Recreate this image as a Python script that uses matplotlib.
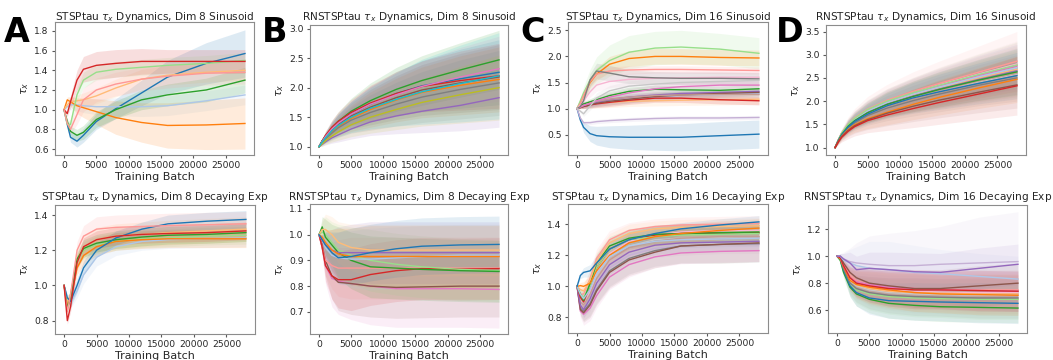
import matplotlib.pyplot as plt

W, H = 1053, 360

BATCH = [0, 500, 1000, 2000, 3000, 5000, 8000, 12000, 16000, 22000, 28000]

TAB20 = dict(zip(
    ["blue", "lblue", "orange", "lorange", "green", "lgreen", "red", "lred",
     "purple", "lpurple", "brown", "lbrown", "pink", "lpink", "gray", "lgray",
     "olive", "lolive", "cyan", "lcyan"],
    plt.get_cmap("tab20").colors,
))

# ---- A: STSPtau, dim 8, sinusoid
A_COLORS = ["blue", "lblue", "orange", "lorange", "green", "lgreen", "red", "lred"]
A_MEAN = [
    [1.0, 0.85, 0.72, 0.68, 0.74, 0.88, 1.01, 1.17, 1.33, 1.47, 1.57],
    [1.0, 1.03, 1.05, 1.05, 1.04, 1.03, 1.03, 1.03, 1.04, 1.09, 1.15],
    [1.0, 1.10, 1.08, 1.04, 1.02, 0.98, 0.92, 0.87, 0.84, 0.845, 0.86],
    [1.0, 1.05, 1.08, 1.09, 1.10, 1.14, 1.22, 1.31, 1.35, 1.38, 1.40],
    [1.0, 0.88, 0.78, 0.74, 0.77, 0.90, 1.00, 1.10, 1.15, 1.20, 1.30],
    [1.0, 0.85, 0.85, 1.15, 1.30, 1.38, 1.41, 1.43, 1.45, 1.47, 1.50],
    [1.0, 0.96, 1.08, 1.30, 1.41, 1.45, 1.47, 1.49, 1.49, 1.49, 1.49],
    [1.0, 0.86, 0.80, 0.95, 1.10, 1.20, 1.26, 1.31, 1.34, 1.37, 1.38],
]
A_SPREAD = [
    [0, 0.03, 0.05, 0.06, 0.07, 0.08, 0.10, 0.13, 0.17, 0.21, 0.24],
    [0, 0.03, 0.05, 0.06, 0.07, 0.08, 0.09, 0.10, 0.10, 0.10, 0.10],
    [0, 0.03, 0.05, 0.08, 0.10, 0.13, 0.17, 0.20, 0.23, 0.25, 0.26],
    [0, 0.02, 0.04, 0.06, 0.07, 0.08, 0.09, 0.10, 0.10, 0.10, 0.10],
    [0, 0.03, 0.05, 0.06, 0.07, 0.08, 0.09, 0.10, 0.11, 0.12, 0.13],
    [0, 0.03, 0.05, 0.07, 0.08, 0.08, 0.08, 0.08, 0.08, 0.08, 0.08],
    [0, 0.03, 0.06, 0.10, 0.13, 0.14, 0.14, 0.13, 0.12, 0.12, 0.12],
    [0, 0.03, 0.05, 0.10, 0.12, 0.12, 0.12, 0.12, 0.12, 0.12, 0.12],
]

# ---- B: RNSTSPtau, dim 8, sinusoid
B_COLORS = ["blue", "orange", "green", "red", "purple", "brown", "pink", "gray",
            "olive", "cyan"]
B_MEAN = [
    [1.0, 1.10, 1.18, 1.30, 1.40, 1.55, 1.72, 1.90, 2.03, 2.15, 2.26],
    [1.0, 1.08, 1.14, 1.25, 1.34, 1.48, 1.63, 1.79, 1.92, 2.04, 2.14],
    [1.0, 1.10, 1.18, 1.32, 1.43, 1.60, 1.78, 1.97, 2.12, 2.30, 2.47],
    [1.0, 1.10, 1.19, 1.33, 1.43, 1.58, 1.74, 1.90, 2.02, 2.12, 2.20],
    [1.0, 1.04, 1.08, 1.15, 1.20, 1.30, 1.42, 1.52, 1.60, 1.70, 1.83],
    [1.0, 1.09, 1.16, 1.28, 1.38, 1.52, 1.67, 1.83, 1.96, 2.08, 2.18],
    [1.0, 1.09, 1.17, 1.30, 1.40, 1.55, 1.72, 1.88, 2.02, 2.18, 2.32],
    [1.0, 1.07, 1.13, 1.23, 1.32, 1.45, 1.58, 1.72, 1.84, 1.97, 2.08],
    [1.0, 1.05, 1.10, 1.18, 1.25, 1.37, 1.50, 1.63, 1.75, 1.88, 2.00],
    [1.0, 1.08, 1.15, 1.27, 1.36, 1.50, 1.65, 1.80, 1.93, 2.07, 2.20],
]
B_SPREAD = [
    [0, 0.04, 0.07, 0.12, 0.16, 0.22, 0.30, 0.37, 0.43, 0.50, 0.55],
    [0, 0.04, 0.07, 0.12, 0.16, 0.22, 0.30, 0.37, 0.43, 0.50, 0.55],
    [0, 0.04, 0.07, 0.12, 0.16, 0.22, 0.30, 0.37, 0.42, 0.46, 0.50],
    [0, 0.04, 0.07, 0.12, 0.16, 0.22, 0.30, 0.37, 0.43, 0.50, 0.55],
    [0, 0.03, 0.05, 0.09, 0.12, 0.17, 0.23, 0.30, 0.36, 0.43, 0.50],
    [0, 0.04, 0.07, 0.12, 0.16, 0.22, 0.30, 0.37, 0.43, 0.50, 0.55],
    [0, 0.04, 0.07, 0.12, 0.16, 0.22, 0.30, 0.37, 0.43, 0.50, 0.55],
    [0, 0.04, 0.07, 0.12, 0.16, 0.22, 0.30, 0.37, 0.43, 0.50, 0.55],
    [0, 0.04, 0.06, 0.10, 0.14, 0.20, 0.27, 0.34, 0.40, 0.48, 0.55],
    [0, 0.04, 0.08, 0.14, 0.19, 0.26, 0.35, 0.45, 0.55, 0.65, 0.73],
]

# ---- C: STSPtau, dim 16, sinusoid
C_COLORS = ["blue", "lblue", "orange", "lorange", "green", "lgreen", "red", "lred",
            "purple", "lpurple", "brown", "lbrown", "pink", "lpink", "gray", "lgray"]
C_MEAN = [
    [1.0, 0.78, 0.64, 0.52, 0.48, 0.46, 0.45, 0.45, 0.45, 0.48, 0.51],
    [1.0, 1.03, 1.05, 1.08, 1.10, 1.14, 1.18, 1.22, 1.25, 1.27, 1.29],
    [1.0, 1.12, 1.25, 1.50, 1.66, 1.85, 1.96, 2.00, 2.00, 1.98, 1.97],
    [1.0, 1.03, 1.05, 1.08, 1.10, 1.12, 1.14, 1.15, 1.16, 1.17, 1.18],
    [1.0, 1.05, 1.09, 1.13, 1.17, 1.25, 1.33, 1.37, 1.36, 1.35, 1.38],
    [1.0, 1.15, 1.30, 1.55, 1.73, 1.92, 2.08, 2.16, 2.18, 2.14, 2.06],
    [1.0, 1.02, 1.04, 1.07, 1.09, 1.12, 1.16, 1.20, 1.20, 1.17, 1.15],
    [1.0, 1.10, 1.25, 1.52, 1.66, 1.72, 1.74, 1.75, 1.75, 1.74, 1.73],
    [1.0, 1.03, 1.06, 1.09, 1.12, 1.17, 1.22, 1.26, 1.29, 1.31, 1.33],
    [1.0, 0.82, 0.73, 0.73, 0.75, 0.77, 0.79, 0.81, 0.82, 0.82, 0.83],
    [1.0, 1.02, 1.04, 1.07, 1.10, 1.14, 1.18, 1.23, 1.26, 1.29, 1.31],
    [1.0, 1.03, 1.06, 1.10, 1.14, 1.18, 1.22, 1.25, 1.26, 1.27, 1.27],
    [1.0, 1.03, 1.06, 1.10, 1.15, 1.22, 1.30, 1.38, 1.42, 1.45, 1.45],
    [1.0, 1.06, 1.15, 1.32, 1.45, 1.52, 1.56, 1.58, 1.59, 1.60, 1.60],
    [1.0, 1.04, 1.15, 1.55, 1.72, 1.68, 1.61, 1.59, 1.58, 1.58, 1.57],
    [1.0, 0.95, 0.90, 1.05, 1.20, 1.34, 1.43, 1.47, 1.50, 1.52, 1.54],
]
C_SPREAD = [
    [0, 0.05, 0.10, 0.15, 0.18, 0.21, 0.23, 0.25, 0.26, 0.27, 0.27],
    [0, 0.02, 0.04, 0.06, 0.07, 0.08, 0.08, 0.08, 0.08, 0.08, 0.08],
    [0, 0.03, 0.06, 0.10, 0.12, 0.15, 0.15, 0.15, 0.15, 0.15, 0.15],
    [0, 0.03, 0.05, 0.08, 0.09, 0.10, 0.10, 0.10, 0.10, 0.10, 0.10],
    [0, 0.02, 0.04, 0.06, 0.07, 0.08, 0.08, 0.08, 0.08, 0.08, 0.08],
    [0, 0.06, 0.12, 0.20, 0.26, 0.30, 0.32, 0.32, 0.32, 0.30, 0.30],
    [0, 0.02, 0.04, 0.06, 0.07, 0.08, 0.08, 0.08, 0.08, 0.08, 0.08],
    [0, 0.03, 0.06, 0.08, 0.08, 0.08, 0.08, 0.07, 0.07, 0.07, 0.07],
    [0, 0.02, 0.04, 0.05, 0.06, 0.06, 0.06, 0.06, 0.06, 0.06, 0.06],
    [0, 0.02, 0.03, 0.04, 0.04, 0.04, 0.04, 0.04, 0.04, 0.04, 0.04],
    [0, 0.02, 0.04, 0.05, 0.06, 0.07, 0.07, 0.07, 0.07, 0.07, 0.07],
    [0, 0.02, 0.04, 0.05, 0.06, 0.07, 0.07, 0.07, 0.07, 0.07, 0.07],
    [0, 0.02, 0.04, 0.06, 0.07, 0.08, 0.08, 0.08, 0.08, 0.08, 0.08],
    [0, 0.03, 0.06, 0.10, 0.12, 0.12, 0.12, 0.12, 0.12, 0.12, 0.12],
    [0, 0.03, 0.06, 0.12, 0.15, 0.15, 0.13, 0.12, 0.12, 0.12, 0.12],
    [0, 0.03, 0.05, 0.08, 0.10, 0.10, 0.10, 0.10, 0.10, 0.10, 0.10],
]

# ---- D: RNSTSPtau, dim 16, sinusoid
D_COLORS = ["lgray", "gray", "lpink", "lbrown", "lorange", "lpurple", "purple",
            "pink", "lblue", "lred", "lgreen", "green", "blue", "orange", "brown",
            "red"]
D_MEAN = [
    [1.0, 1.15, 1.27, 1.45, 1.57, 1.74, 1.91, 2.08, 2.22, 2.41, 2.58],
    [1.0, 1.14, 1.26, 1.42, 1.53, 1.69, 1.85, 2.01, 2.15, 2.34, 2.50],
    [1.0, 1.17, 1.31, 1.49, 1.63, 1.81, 2.00, 2.18, 2.35, 2.58, 2.80],
    [1.0, 1.15, 1.28, 1.45, 1.58, 1.75, 1.92, 2.09, 2.23, 2.43, 2.60],
    [1.0, 1.16, 1.29, 1.47, 1.60, 1.78, 1.96, 2.14, 2.29, 2.50, 2.69],
    [1.0, 1.16, 1.30, 1.48, 1.62, 1.80, 1.98, 2.16, 2.31, 2.53, 2.72],
    [1.0, 1.15, 1.28, 1.46, 1.59, 1.76, 1.94, 2.11, 2.26, 2.46, 2.65],
    [1.0, 1.16, 1.30, 1.49, 1.62, 1.80, 1.99, 2.17, 2.33, 2.55, 2.76],
    [1.0, 1.16, 1.30, 1.48, 1.61, 1.79, 1.97, 2.15, 2.30, 2.52, 2.72],
    [1.0, 1.17, 1.31, 1.50, 1.64, 1.83, 2.02, 2.21, 2.38, 2.62, 2.86],
    [1.0, 1.17, 1.31, 1.50, 1.63, 1.82, 2.00, 2.18, 2.34, 2.57, 2.78],
    [1.0, 1.15, 1.28, 1.46, 1.58, 1.75, 1.93, 2.10, 2.25, 2.45, 2.63],
    [1.0, 1.15, 1.27, 1.44, 1.56, 1.72, 1.90, 2.07, 2.20, 2.38, 2.55],
    [1.0, 1.13, 1.24, 1.39, 1.49, 1.62, 1.76, 1.93, 2.08, 2.28, 2.47],
    [1.0, 1.13, 1.23, 1.37, 1.47, 1.60, 1.74, 1.89, 2.02, 2.19, 2.35],
    [1.0, 1.12, 1.22, 1.35, 1.45, 1.58, 1.70, 1.84, 1.97, 2.15, 2.33],
]
D_SPREAD = [
    [0, 0.05, 0.08, 0.13, 0.16, 0.21, 0.27, 0.33, 0.38, 0.44, 0.50],
    [0, 0.05, 0.08, 0.13, 0.16, 0.21, 0.27, 0.33, 0.38, 0.44, 0.50],
    [0, 0.05, 0.08, 0.13, 0.16, 0.21, 0.27, 0.33, 0.38, 0.44, 0.50],
    [0, 0.05, 0.08, 0.13, 0.16, 0.21, 0.27, 0.33, 0.38, 0.44, 0.50],
    [0, 0.05, 0.08, 0.13, 0.16, 0.21, 0.27, 0.33, 0.38, 0.44, 0.50],
    [0, 0.05, 0.08, 0.13, 0.16, 0.21, 0.27, 0.33, 0.38, 0.44, 0.50],
    [0, 0.05, 0.08, 0.13, 0.16, 0.21, 0.27, 0.33, 0.38, 0.44, 0.50],
    [0, 0.05, 0.08, 0.13, 0.16, 0.21, 0.27, 0.33, 0.38, 0.44, 0.50],
    [0, 0.05, 0.08, 0.13, 0.16, 0.21, 0.27, 0.33, 0.38, 0.44, 0.50],
    [0, 0.06, 0.10, 0.16, 0.20, 0.27, 0.34, 0.42, 0.48, 0.56, 0.64],
    [0, 0.05, 0.08, 0.13, 0.16, 0.21, 0.27, 0.33, 0.38, 0.44, 0.50],
    [0, 0.05, 0.08, 0.13, 0.16, 0.21, 0.27, 0.33, 0.38, 0.44, 0.50],
    [0, 0.05, 0.08, 0.13, 0.16, 0.21, 0.27, 0.33, 0.38, 0.44, 0.50],
    [0, 0.05, 0.08, 0.13, 0.16, 0.21, 0.27, 0.33, 0.38, 0.44, 0.50],
    [0, 0.05, 0.08, 0.13, 0.16, 0.21, 0.27, 0.33, 0.38, 0.44, 0.50],
    [0, 0.06, 0.10, 0.16, 0.20, 0.26, 0.33, 0.41, 0.47, 0.55, 0.63],
]

# ---- A2: STSPtau, dim 8, decaying exp
A2_COLORS = ["lblue", "lgreen", "lorange", "orange", "green", "blue", "lred", "red"]
A2_MEAN = [
    [1.0, 0.92, 0.90, 0.97, 1.06, 1.16, 1.22, 1.25, 1.26, 1.265, 1.27],
    [1.0, 0.89, 0.95, 1.14, 1.20, 1.23, 1.25, 1.265, 1.27, 1.28, 1.285],
    [1.0, 0.90, 0.95, 1.15, 1.22, 1.26, 1.28, 1.29, 1.30, 1.31, 1.32],
    [1.0, 0.88, 0.92, 1.10, 1.17, 1.22, 1.25, 1.26, 1.265, 1.265, 1.265],
    [1.0, 0.87, 0.93, 1.15, 1.21, 1.24, 1.26, 1.275, 1.285, 1.29, 1.30],
    [1.0, 0.93, 0.91, 1.00, 1.10, 1.20, 1.27, 1.32, 1.35, 1.365, 1.375],
    [1.0, 0.85, 0.95, 1.20, 1.28, 1.32, 1.33, 1.335, 1.34, 1.345, 1.35],
    [1.0, 0.80, 0.88, 1.13, 1.22, 1.26, 1.28, 1.29, 1.295, 1.30, 1.31],
]
A2_SPREAD = [
    [0, 0.02, 0.03, 0.04, 0.05, 0.05, 0.05, 0.05, 0.05, 0.05, 0.05],
    [0, 0.02, 0.03, 0.04, 0.05, 0.05, 0.05, 0.05, 0.05, 0.05, 0.05],
    [0, 0.02, 0.03, 0.05, 0.06, 0.07, 0.07, 0.07, 0.07, 0.07, 0.07],
    [0, 0.02, 0.03, 0.04, 0.05, 0.05, 0.05, 0.05, 0.05, 0.05, 0.05],
    [0, 0.02, 0.03, 0.04, 0.05, 0.05, 0.05, 0.05, 0.05, 0.05, 0.05],
    [0, 0.02, 0.03, 0.04, 0.04, 0.04, 0.04, 0.04, 0.05, 0.05, 0.05],
    [0, 0.02, 0.03, 0.05, 0.06, 0.07, 0.07, 0.07, 0.07, 0.07, 0.07],
    [0, 0.02, 0.03, 0.04, 0.05, 0.05, 0.05, 0.05, 0.05, 0.05, 0.05],
]

# ---- B2: RNSTSPtau, dim 8, decaying exp
B2_COLORS = ["pink", "brown", "lred", "red", "lgreen", "green", "lblue", "purple",
             "orange", "lorange", "blue"]
B2_MEAN = [
    [1.0, 0.95, 0.88, 0.83, 0.82, 0.81, 0.80, 0.79, 0.79, 0.79, 0.787],
    [1.0, 0.96, 0.90, 0.84, 0.815, 0.81, 0.80, 0.795, 0.797, 0.80, 0.80],
    [1.0, 0.95, 0.90, 0.88, 0.87, 0.87, 0.87, 0.87, 0.87, 0.87, 0.87],
    [1.0, 0.95, 0.88, 0.84, 0.825, 0.825, 0.845, 0.86, 0.868, 0.866, 0.868],
    [1.0, 1.01, 1.00, 0.97, 0.94, 0.92, 0.90, 0.885, 0.875, 0.865, 0.86],
    [1.0, 1.03, 0.99, 0.96, 0.93, 0.90, 0.875, 0.87, 0.865, 0.86, 0.857],
    [1.0, 0.98, 0.95, 0.92, 0.91, 0.905, 0.905, 0.91, 0.915, 0.92, 0.92],
    [1.0, 0.98, 0.96, 0.94, 0.93, 0.93, 0.93, 0.93, 0.93, 0.93, 0.93],
    [1.0, 0.99, 0.97, 0.94, 0.925, 0.915, 0.915, 0.915, 0.915, 0.915, 0.915],
    [1.0, 1.02, 1.02, 1.00, 0.97, 0.95, 0.94, 0.94, 0.94, 0.94, 0.94],
    [1.0, 0.98, 0.96, 0.93, 0.91, 0.915, 0.93, 0.945, 0.955, 0.96, 0.962],
]
B2_SPREAD = [
    [0, 0.03, 0.07, 0.11, 0.13, 0.14, 0.15, 0.15, 0.15, 0.15, 0.15],
    [0, 0.03, 0.06, 0.09, 0.11, 0.12, 0.12, 0.12, 0.12, 0.12, 0.12],
    [0, 0.03, 0.06, 0.09, 0.11, 0.12, 0.12, 0.12, 0.12, 0.12, 0.12],
    [0, 0.03, 0.06, 0.09, 0.11, 0.12, 0.12, 0.12, 0.12, 0.12, 0.12],
    [0, 0.04, 0.07, 0.08, 0.10, 0.11, 0.12, 0.12, 0.12, 0.12, 0.12],
    [0, 0.04, 0.07, 0.08, 0.10, 0.11, 0.12, 0.12, 0.12, 0.12, 0.12],
    [0, 0.02, 0.05, 0.08, 0.10, 0.11, 0.12, 0.12, 0.12, 0.12, 0.12],
    [0, 0.02, 0.05, 0.08, 0.10, 0.11, 0.12, 0.12, 0.12, 0.12, 0.12],
    [0, 0.02, 0.05, 0.08, 0.10, 0.11, 0.12, 0.12, 0.12, 0.12, 0.12],
    [0, 0.04, 0.06, 0.07, 0.08, 0.09, 0.10, 0.10, 0.10, 0.10, 0.10],
    [0, 0.02, 0.05, 0.08, 0.10, 0.11, 0.11, 0.11, 0.11, 0.11, 0.11],
]

# ---- C2: STSPtau, dim 16, decaying exp
C2_COLORS = ["lgray", "lpink", "lbrown", "lpurple", "gray", "pink", "brown",
             "purple", "lred", "red", "lgreen", "green", "lorange", "orange",
             "lblue", "blue"]
C2_MEAN = [
    [1.0, 0.92, 0.90, 0.97, 1.07, 1.19, 1.26, 1.30, 1.31, 1.315, 1.32],
    [1.0, 0.90, 0.88, 0.96, 1.08, 1.21, 1.29, 1.33, 1.35, 1.36, 1.36],
    [1.0, 0.90, 0.88, 0.95, 1.05, 1.17, 1.25, 1.29, 1.31, 1.32, 1.32],
    [1.0, 0.87, 0.85, 0.90, 1.00, 1.12, 1.20, 1.245, 1.26, 1.27, 1.27],
    [1.0, 0.86, 0.84, 0.89, 0.98, 1.10, 1.18, 1.23, 1.26, 1.27, 1.275],
    [1.0, 0.84, 0.82, 0.86, 0.94, 1.06, 1.14, 1.19, 1.215, 1.225, 1.23],
    [1.0, 0.85, 0.83, 0.88, 0.97, 1.09, 1.17, 1.22, 1.26, 1.27, 1.28],
    [1.0, 0.88, 0.85, 0.92, 1.02, 1.14, 1.22, 1.265, 1.28, 1.285, 1.29],
    [1.0, 0.95, 0.95, 1.05, 1.18, 1.30, 1.36, 1.385, 1.395, 1.40, 1.405],
    [1.0, 0.93, 0.90, 1.00, 1.12, 1.24, 1.30, 1.33, 1.34, 1.345, 1.345],
    [1.0, 0.95, 0.93, 1.00, 1.12, 1.24, 1.30, 1.32, 1.33, 1.335, 1.34],
    [1.0, 0.95, 0.91, 1.02, 1.15, 1.26, 1.31, 1.335, 1.34, 1.345, 1.35],
    [1.0, 0.98, 0.97, 1.04, 1.16, 1.28, 1.34, 1.37, 1.38, 1.385, 1.39],
    [1.0, 1.005, 1.00, 1.02, 1.10, 1.20, 1.28, 1.32, 1.34, 1.36, 1.375],
    [1.0, 0.95, 0.92, 0.98, 1.08, 1.19, 1.26, 1.29, 1.30, 1.305, 1.31],
    [1.0, 1.07, 1.09, 1.10, 1.15, 1.24, 1.30, 1.34, 1.37, 1.395, 1.415],
]
C2_SPREAD = [
    [0, 0.03, 0.05, 0.06, 0.06, 0.06, 0.06, 0.06, 0.06, 0.06, 0.06],
    [0, 0.03, 0.05, 0.06, 0.06, 0.06, 0.06, 0.06, 0.06, 0.06, 0.06],
    [0, 0.03, 0.05, 0.06, 0.06, 0.06, 0.06, 0.06, 0.06, 0.06, 0.06],
    [0, 0.03, 0.05, 0.06, 0.06, 0.06, 0.06, 0.06, 0.06, 0.06, 0.06],
    [0, 0.04, 0.06, 0.08, 0.09, 0.10, 0.10, 0.10, 0.11, 0.12, 0.12],
    [0, 0.04, 0.07, 0.08, 0.08, 0.08, 0.08, 0.07, 0.07, 0.07, 0.07],
    [0, 0.04, 0.06, 0.08, 0.09, 0.10, 0.10, 0.10, 0.11, 0.12, 0.12],
    [0, 0.03, 0.05, 0.06, 0.06, 0.06, 0.06, 0.06, 0.06, 0.06, 0.06],
    [0, 0.03, 0.05, 0.06, 0.06, 0.06, 0.05, 0.05, 0.05, 0.05, 0.05],
    [0, 0.03, 0.05, 0.06, 0.06, 0.06, 0.06, 0.06, 0.06, 0.06, 0.06],
    [0, 0.03, 0.05, 0.06, 0.06, 0.06, 0.06, 0.06, 0.06, 0.06, 0.06],
    [0, 0.03, 0.05, 0.06, 0.06, 0.06, 0.06, 0.06, 0.06, 0.06, 0.06],
    [0, 0.03, 0.05, 0.06, 0.06, 0.06, 0.06, 0.05, 0.05, 0.05, 0.05],
    [0, 0.02, 0.03, 0.05, 0.06, 0.06, 0.06, 0.06, 0.06, 0.06, 0.06],
    [0, 0.03, 0.05, 0.06, 0.06, 0.06, 0.06, 0.06, 0.06, 0.06, 0.06],
    [0, 0.02, 0.03, 0.04, 0.05, 0.05, 0.05, 0.05, 0.04, 0.04, 0.04],
]

# ---- D2: RNSTSPtau, dim 16, decaying exp
D2_COLORS = ["lgray", "lpink", "lbrown", "lred", "lgreen", "lorange", "lpurple",
             "green", "blue", "gray", "orange", "pink", "red", "brown", "lblue",
             "purple"]
D2_MEAN = [
    [1.0, 0.98, 0.92, 0.82, 0.78, 0.75, 0.73, 0.72, 0.715, 0.71, 0.71],
    [1.0, 0.99, 0.93, 0.84, 0.80, 0.77, 0.75, 0.74, 0.735, 0.73, 0.73],
    [1.0, 0.98, 0.93, 0.85, 0.81, 0.78, 0.76, 0.75, 0.745, 0.74, 0.74],
    [1.0, 0.99, 0.94, 0.86, 0.82, 0.79, 0.77, 0.76, 0.755, 0.75, 0.75],
    [1.0, 0.97, 0.89, 0.79, 0.75, 0.72, 0.70, 0.69, 0.685, 0.68, 0.68],
    [1.0, 0.98, 0.92, 0.83, 0.79, 0.76, 0.74, 0.73, 0.725, 0.72, 0.72],
    [1.0, 1.00, 0.98, 0.96, 0.95, 0.94, 0.93, 0.93, 0.94, 0.95, 0.96],
    [1.0, 0.97, 0.88, 0.77, 0.72, 0.68, 0.65, 0.635, 0.625, 0.62, 0.615],
    [1.0, 0.98, 0.90, 0.78, 0.73, 0.69, 0.67, 0.665, 0.66, 0.655, 0.65],
    [1.0, 0.98, 0.91, 0.80, 0.76, 0.73, 0.71, 0.70, 0.695, 0.69, 0.69],
    [1.0, 0.98, 0.92, 0.82, 0.79, 0.77, 0.75, 0.73, 0.72, 0.715, 0.71],
    [1.0, 0.99, 0.93, 0.84, 0.81, 0.79, 0.77, 0.76, 0.75, 0.745, 0.74],
    [1.0, 0.99, 0.93, 0.84, 0.80, 0.78, 0.76, 0.75, 0.75, 0.745, 0.74],
    [1.0, 1.00, 0.95, 0.88, 0.84, 0.80, 0.78, 0.76, 0.76, 0.78, 0.80],
    [1.0, 1.00, 0.97, 0.95, 0.93, 0.91, 0.90, 0.88, 0.87, 0.85, 0.83],
    [1.0, 1.00, 0.98, 0.95, 0.90, 0.91, 0.90, 0.885, 0.88, 0.91, 0.94],
]
D2_SPREAD = [
    [0, 0.01, 0.04, 0.08, 0.10, 0.12, 0.13, 0.14, 0.14, 0.15, 0.15],
    [0, 0.01, 0.04, 0.08, 0.10, 0.12, 0.13, 0.14, 0.14, 0.15, 0.15],
    [0, 0.01, 0.04, 0.08, 0.10, 0.12, 0.13, 0.14, 0.14, 0.15, 0.15],
    [0, 0.01, 0.04, 0.08, 0.10, 0.12, 0.13, 0.14, 0.14, 0.15, 0.15],
    [0, 0.01, 0.04, 0.08, 0.10, 0.12, 0.13, 0.14, 0.14, 0.15, 0.15],
    [0, 0.01, 0.04, 0.08, 0.10, 0.12, 0.13, 0.14, 0.14, 0.15, 0.15],
    [0, 0.02, 0.05, 0.10, 0.15, 0.21, 0.24, 0.26, 0.28, 0.34, 0.37],
    [0, 0.01, 0.04, 0.07, 0.09, 0.10, 0.11, 0.11, 0.11, 0.11, 0.11],
    [0, 0.01, 0.04, 0.08, 0.10, 0.12, 0.13, 0.14, 0.14, 0.15, 0.15],
    [0, 0.01, 0.04, 0.08, 0.10, 0.12, 0.13, 0.14, 0.14, 0.15, 0.15],
    [0, 0.01, 0.04, 0.08, 0.10, 0.12, 0.13, 0.14, 0.14, 0.15, 0.15],
    [0, 0.01, 0.04, 0.08, 0.10, 0.12, 0.13, 0.14, 0.14, 0.15, 0.15],
    [0, 0.01, 0.04, 0.08, 0.10, 0.12, 0.13, 0.14, 0.14, 0.15, 0.15],
    [0, 0.01, 0.04, 0.08, 0.10, 0.12, 0.13, 0.14, 0.14, 0.15, 0.15],
    [0, 0.02, 0.05, 0.10, 0.14, 0.20, 0.21, 0.20, 0.18, 0.17, 0.17],
    [0, 0.02, 0.04, 0.08, 0.10, 0.12, 0.13, 0.14, 0.14, 0.15, 0.15],
]

TITLES = [
    r"STSPtau $\tau_x$ Dynamics, Dim 8 Sinusoid",
    r"RNSTSPtau $\tau_x$ Dynamics, Dim 8 Sinusoid",
    r"STSPtau $\tau_x$ Dynamics, Dim 16 Sinusoid",
    r"RNSTSPtau $\tau_x$ Dynamics, Dim 16 Sinusoid",
    r"STSPtau $\tau_x$ Dynamics, Dim 8 Decaying Exp",
    r"RNSTSPtau $\tau_x$ Dynamics, Dim 8 Decaying Exp",
    r"STSPtau $\tau_x$ Dynamics, Dim 16 Decaying Exp",
    r"RNSTSPtau $\tau_x$ Dynamics, Dim 16 Decaying Exp",
]
YTICKS = [
    [0.6, 0.8, 1.0, 1.2, 1.4, 1.6, 1.8],
    [1.0, 1.5, 2.0, 2.5, 3.0],
    [0.5, 1.0, 1.5, 2.0, 2.5],
    [1.0, 1.5, 2.0, 2.5, 3.0, 3.5],
    [0.8, 1.0, 1.2, 1.4],
    [0.7, 0.8, 0.9, 1.0, 1.1],
    [0.8, 1.0, 1.2, 1.4],
    [0.6, 0.8, 1.0, 1.2],
]
YLIMS = [
    (0.54, 1.89), (0.86, 3.06), (0.11, 2.66), (0.84, 3.64),
    (0.724, 1.457), (0.614, 1.119), (0.70, 1.53), (0.43, 1.38),
]
PANEL_LETTERS = ["A", "B", "C", "D"]

# layout (pixels): axes boxes as left, top, right, bottom
BOXES = [
    (55, 22, 254, 155), (310, 25, 508, 155), (568, 22, 768, 155), (826, 25, 1026, 155),
    (55, 205, 255, 334), (310, 204, 508, 334), (568, 204, 768, 333), (828, 205, 1027, 333),
]
TITLE_BASELINE = [20, 20, 20, 20, 200, 200, 200, 200]
BAND_ALPHA = [0.15, 0.13, 0.14, 0.09, 0.15, 0.12, 0.10, 0.09]
LETTER_X = [4, 262, 520, 776]

TEXT = "0.15"


def draw_panel(ax, colors, means, spreads, alpha):
    for name, mean, spread in zip(colors, means, spreads):
        c = TAB20[name]
        lo = [m - s for m, s in zip(mean, spread)]
        hi = [m + s for m, s in zip(mean, spread)]
        ax.fill_between(BATCH, lo, hi, color=c, alpha=alpha, linewidth=0)
        ax.plot(BATCH, mean, color=c, lw=1.0)


panels = [
    (A_COLORS, A_MEAN, A_SPREAD),
    (B_COLORS, B_MEAN, B_SPREAD),
    (C_COLORS, C_MEAN, C_SPREAD),
    (D_COLORS, D_MEAN, D_SPREAD),
    (A2_COLORS, A2_MEAN, A2_SPREAD),
    (B2_COLORS, B2_MEAN, B2_SPREAD),
    (C2_COLORS, C2_MEAN, C2_SPREAD),
    (D2_COLORS, D2_MEAN, D2_SPREAD),
]

fig = plt.figure(figsize=(W / 100, H / 100), dpi=100)

for i, (colors, means, spreads) in enumerate(panels):
    l, t, r, b = BOXES[i]
    ax = fig.add_axes([l / W, 1 - b / H, (r - l) / W, (b - t) / H])
    draw_panel(ax, colors, means, spreads, BAND_ALPHA[i])
    ax.set_xlim(-1400, 29400)
    ax.set_ylim(*YLIMS[i])
    ax.set_xticks([0, 5000, 10000, 15000, 20000, 25000])
    ax.set_yticks(YTICKS[i])
    ax.tick_params(labelsize=6.6, length=2.5, pad=2, colors="0.35", labelcolor=TEXT)
    for sp in ax.spines.values():
        sp.set_color("0.55")
        sp.set_linewidth(0.8)
    ax.set_xlabel("Training Batch", fontsize=8, labelpad=1.5, color=TEXT)
    ax.set_ylabel(r"$\tau_x$", fontsize=8, labelpad=2, color=TEXT)
    fig.text((l + r) / 2 / W, 1 - TITLE_BASELINE[i] / H, TITLES[i],
             ha="center", va="baseline", fontsize=7.6, color=TEXT)

for letter, x in zip(PANEL_LETTERS, LETTER_X):
    fig.text(x / W, 1 - 42 / H, letter, ha="left", va="baseline",
             fontsize=24, fontweight="bold", color="black")

fig.savefig("out.png", dpi=100)
